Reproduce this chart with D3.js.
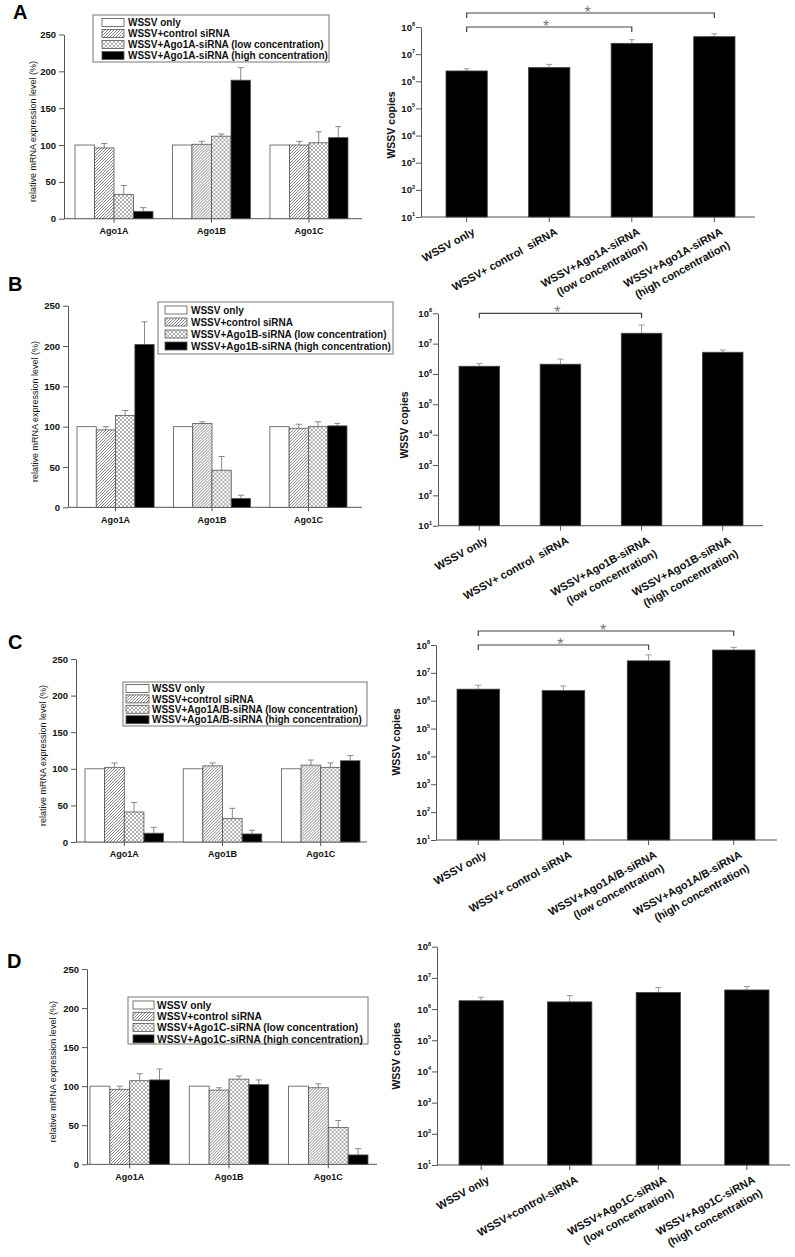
<!DOCTYPE html>
<html><head><meta charset="utf-8">
<script src="https://cdn.jsdelivr.net/npm/d3@7"></script>
<style>
body{margin:0;background:#fff;}
svg text{font-family:"Liberation Sans",Arial,Helvetica,sans-serif;}
</style></head><body>
<svg id="fig" width="795" height="1257"></svg>
<script>
// ---------------- DATA ----------------
const panelLetters = ["A","B","C","D"];
const genes = ["Ago1A","Ago1B","Ago1C"];
const treatments = ["only","control","low","high"];
const yTicksExpr = [0,50,100,150,200,250];
const logExponents = [1,2,3,4,5,6,7,8];

const legendA = ["WSSV only","WSSV+control siRNA","WSSV+Ago1A-siRNA (low concentration)","WSSV+Ago1A-siRNA (high concentration)"];
const legendB = ["WSSV only","WSSV+control siRNA","WSSV+Ago1B-siRNA (low concentration)","WSSV+Ago1B-siRNA (high concentration)"];
const legendC = ["WSSV only","WSSV+control siRNA","WSSV+Ago1A/B-siRNA (low concentration)","WSSV+Ago1A/B-siRNA (high concentration)"];
const legendD = ["WSSV only","WSSV+control siRNA","WSSV+Ago1C-siRNA (low concentration)","WSSV+Ago1C-siRNA (high concentration)"];

// relative mRNA expression (%) per gene: [only, control, low, high]
const exprA = [[100,96,33,10],[100,101,112,188],[100,100,103,110]];
const exprErrA = [[0,6,12,5],[0,4,3,17],[0,5,15,15]];
const exprB = [[100,96,114,202],[100,104,46,11],[100,98,100,101]];
const exprErrB = [[0,4,6,28],[0,2,17,4],[0,5,6,3]];
const exprC = [[100,102,41,12],[100,104,32,11],[100,105,102,111]];
const exprErrC = [[0,6,13,8],[0,4,14,5],[0,7,6,7]];
const exprD = [[100,96,107,108],[100,95,109,102],[100,98,47,12]];
const exprErrD = [[0,4,9,14],[0,3,4,6],[0,5,9,8]];

// WSSV copies
const copiesA = [2.4e6,3.2e6,2.5e7,4.4e7];
const copiesErrA = [0.5e6,1.0e6,0.9e7,1.2e7];
const copiesB = [1.8e6,2.1e6,2.2e7,5.2e6];
const copiesErrB = [0.4e6,1.0e6,1.9e7,1.0e6];
const copiesC = [2.6e6,2.3e6,2.7e7,6.6e7];
const copiesErrC = [1.0e6,1.1e6,1.7e7,1.6e7];
const copiesD = [1.85e6,1.7e6,3.4e6,4.1e6];
const copiesErrD = [0.55e6,1.0e6,1.5e6,1.2e6];

const copyLabelsA = [["WSSV only"],["WSSV+ control  siRNA"],["WSSV+Ago1A-siRNA","(low concentration)"],["WSSV+Ago1A-siRNA","(high concentration)"]];
const copyLabelsB = [["WSSV only"],["WSSV+ control  siRNA"],["WSSV+Ago1B-siRNA","(low concentration)"],["WSSV+Ago1B-siRNA","(high concentration)"]];
const copyLabelsC = [["WSSV only"],["WSSV+ control siRNA"],["WSSV+Ago1A/B-siRNA","(low concentration)"],["WSSV+Ago1A/B-siRNA","(high concentration)"]];
const copyLabelsD = [["WSSV only"],["WSSV+control-siRNA"],["WSSV+Ago1C-siRNA","(low concentration)"],["WSSV+Ago1C-siRNA","(high concentration)"]];

// significance brackets [from, to, level]
const sigA = [[0,2,0],[0,3,1]];
const sigB = [[0,2,0]];
const sigC = [[0,2,0],[0,3,1]];
const sigD = [];

// ---------------- LAYOUT ----------------
const leftLayouts = [
  {x0:64, xEnd:362, yTop:34.5, yBottom:218.7, gStart:75, gEnd:348, labelX:35.5, legend:{x:93,y:15,w:236,h:47,row0:22.5,rowH:11,sw0:102,sw1:124,tx:128,fs:10}, letter:{x:13,y:19}},
  {x0:68, xEnd:362, yTop:305.7, yBottom:507.3, gStart:77, gEnd:347, labelX:37.5, legend:{x:158,y:302,w:235,h:52,row0:310,rowH:12,sw0:165,sw1:187,tx:191,fs:10}, letter:{x:8,y:291}},
  {x0:76, xEnd:367, yTop:659, yBottom:842, gStart:85, gEnd:360, labelX:46, legend:{x:123,y:682,w:244,h:44,row0:688.5,rowH:10.4,sw0:126,sw1:149,tx:152,fs:10}, letter:{x:8,y:649}},
  {x0:87, xEnd:377, yTop:969, yBottom:1164.3, gStart:90, gEnd:368, labelX:56, legend:{x:128,y:997,w:240,h:47,row0:1005,rowH:11.3,sw0:133,sw1:154,tx:157,fs:10.3}, letter:{x:7,y:968}}
];
const rightLayouts = [
  {axisX:421, xEnd:755, yTop:27, yBottom:217, gStart:446, gEnd:735, ylabX:395, ylabY:125},
  {axisX:438, xEnd:763, yTop:313.3, yBottom:525.7, gStart:459, gEnd:743, ylabX:408, ylabY:425},
  {axisX:436, xEnd:777, yTop:645, yBottom:840, gStart:457, gEnd:755, ylabX:400, ylabY:742},
  {axisX:437, xEnd:790, yTop:946.7, yBottom:1165, gStart:459, gEnd:769, ylabX:400, ylabY:1056}
];

const AX = "#555";
const svg = d3.select("#fig");
svg.append("rect").attr("width",795).attr("height",1257).attr("fill","#fff");

// patterns
const defs = svg.append("defs");
const pd = defs.append("pattern").attr("id","diag").attr("patternUnits","userSpaceOnUse").attr("width",3).attr("height",3);
pd.append("rect").attr("width",3).attr("height",3).attr("fill","#fff");
pd.append("path").attr("d","M-1,1 L1,-1 M0,3 L3,0 M2,4 L4,2").attr("stroke","#777").attr("stroke-width",0.9);
const pc = defs.append("pattern").attr("id","cross").attr("patternUnits","userSpaceOnUse").attr("width",4).attr("height",4);
pc.append("rect").attr("width",4).attr("height",4).attr("fill","#fff");
pc.append("path").attr("d","M-1,1 L1,-1 M0,4 L4,0 M3,5 L5,3 M-1,3 L1,5 M0,0 L4,4 M3,-1 L5,1").attr("stroke","#999").attr("stroke-width",0.8);

const fills = {only:"#fff", control:"url(#diag)", low:"url(#cross)", high:"#000"};

function leftPanel(L, values, errs, legendLabels, letter){
  const g = svg.append("g");
  const y = d3.scaleLinear().domain([0,250]).range([L.yBottom, L.yTop]);
  const x0 = d3.scaleBand().domain(genes).range([L.gStart, L.gEnd]).paddingInner(0.2).paddingOuter(0);
  const x1 = d3.scaleBand().domain(treatments).range([0, x0.bandwidth()]);

  // y axis
  const ya = g.append("g").attr("transform",`translate(${L.x0},0)`)
    .call(d3.axisLeft(y).tickValues(yTicksExpr).tickSize(5).tickSizeOuter(0).tickPadding(3));
  ya.select(".domain").attr("stroke",AX);
  ya.selectAll(".tick line").attr("stroke",AX);
  ya.selectAll(".tick text").attr("font-size",9.5).attr("font-weight","bold").attr("fill","#111")
    .style("font-family","'Liberation Sans',Arial,sans-serif");

  // x axis
  g.append("line").attr("x1",L.x0).attr("x2",L.xEnd).attr("y1",y(0)).attr("y2",y(0)).attr("stroke",AX);
  const xa = g.append("g").attr("transform",`translate(0,${y(0)})`)
    .call(d3.axisBottom(x0).tickSize(4).tickSizeOuter(0).tickPadding(5));
  xa.select(".domain").remove();
  xa.selectAll(".tick line").attr("stroke",AX);
  xa.selectAll(".tick text").attr("font-size",9).attr("font-weight","bold").attr("fill","#111")
    .style("font-family","'Liberation Sans',Arial,sans-serif");

  // bars
  genes.forEach((gene, gi) => {
    const gg = g.append("g").attr("transform",`translate(${x0(gene)},0)`);
    treatments.forEach((t, ti) => {
      const v = values[gi][ti], e = errs[gi][ti];
      const bx = x1(t), bw = x1.bandwidth();
      if (e > 0) {
        gg.append("line").attr("x1",bx+bw/2).attr("x2",bx+bw/2).attr("y1",y(v)).attr("y2",y(v+e)).attr("stroke","#888");
        gg.append("line").attr("x1",bx+bw/2-3).attr("x2",bx+bw/2+3).attr("y1",y(v+e)).attr("y2",y(v+e)).attr("stroke","#888");
      }
      gg.append("rect").attr("x",bx).attr("y",y(v)).attr("width",bw).attr("height",y(0)-y(v))
        .attr("fill",fills[t]).attr("stroke","#555").attr("stroke-width",0.8);
    });
  });

  // y label
  g.append("text").attr("transform",`translate(${L.labelX},${(L.yTop+L.yBottom)/2+5}) rotate(-90)`)
    .attr("text-anchor","middle").attr("font-size",9).attr("fill","#111")
    .text("relative mRNA expression level (%)");

  // legend
  const lg = L.legend;
  g.append("rect").attr("x",lg.x).attr("y",lg.y).attr("width",lg.w).attr("height",lg.h)
    .attr("fill","#fff").attr("stroke","#777").attr("stroke-width",1);
  treatments.forEach((t, i) => {
    const cy = lg.row0 + i*lg.rowH;
    g.append("rect").attr("x",lg.sw0).attr("y",cy-4).attr("width",lg.sw1-lg.sw0).attr("height",8)
      .attr("fill",fills[t]).attr("stroke","#555").attr("stroke-width",0.8);
    g.append("text").attr("x",lg.tx).attr("y",cy+3.6).attr("font-size",lg.fs).attr("font-weight","bold")
      .attr("fill","#111").text(legendLabels[i]);
  });

  // letter
  g.append("text").attr("x",L.letter.x).attr("y",L.letter.y).attr("font-size",20).attr("font-weight","bold").text(letter);
}

function rightPanel(R, values, errs, labels, sigs){
  const g = svg.append("g");
  const y = d3.scaleLog().domain([10,1e8]).range([R.yBottom, R.yTop]);
  const x = d3.scaleBand().domain(d3.range(values.length)).range([R.gStart, R.gEnd]).paddingInner(0.5).paddingOuter(0);
  const bw = x.bandwidth();

  // y axis
  const ya = g.append("g").attr("transform",`translate(${R.axisX},0)`)
    .call(d3.axisLeft(y).tickValues(logExponents.map(e => Math.pow(10,e))).tickSize(5).tickSizeOuter(0).tickFormat(""));
  ya.select(".domain").attr("stroke",AX);
  ya.selectAll(".tick line").attr("stroke",AX);
  logExponents.forEach(e => {
    const t = g.append("text").attr("x",R.axisX-6).attr("y",y(Math.pow(10,e))+3.5)
      .attr("text-anchor","end").attr("font-weight","bold").attr("fill","#111");
    t.append("tspan").attr("font-size",9.5).text("10");
    t.append("tspan").attr("font-size",5.5).attr("dy",-4.5).text(e);
  });

  // x axis
  g.append("line").attr("x1",R.axisX).attr("x2",R.xEnd).attr("y1",R.yBottom).attr("y2",R.yBottom).attr("stroke",AX);
  const xa = g.append("g").attr("transform",`translate(0,${R.yBottom})`)
    .call(d3.axisBottom(x).tickSize(5).tickSizeOuter(0).tickFormat(""));
  xa.select(".domain").remove();
  xa.selectAll(".tick line").attr("stroke",AX);

  // bars + error bars
  values.forEach((v, i) => {
    const cx = x(i) + bw/2;
    const top = y(v + errs[i]);
    g.append("line").attr("x1",cx).attr("x2",cx).attr("y1",y(v)).attr("y2",top).attr("stroke","#999");
    g.append("line").attr("x1",cx-3).attr("x2",cx+3).attr("y1",top).attr("y2",top).attr("stroke","#999");
    g.append("rect").attr("x",x(i)).attr("y",y(v)).attr("width",bw).attr("height",R.yBottom-y(v))
      .attr("fill","#000").attr("stroke","#444").attr("stroke-width",0.8);
  });

  // x labels
  labels.forEach((lines, i) => {
    const cx = x(i) + bw/2;
    const t = g.append("text").attr("transform",`translate(${cx+9},${R.yBottom+17}) rotate(-29)`)
      .attr("text-anchor","end").attr("font-size",11).attr("font-weight","bold").attr("fill","#111")
      .style("white-space","pre");
    lines.forEach((ln, k) => {
      t.append("tspan").attr("x",0).attr("dy", k===0 ? 0 : 15).text(ln);
    });
  });

  // y label
  g.append("text").attr("transform",`translate(${R.ylabX},${R.ylabY}) rotate(-90)`)
    .attr("text-anchor","middle").attr("font-size",10.5).attr("font-weight","bold").attr("fill","#111")
    .text("WSSV copies");

  // significance brackets
  sigs.forEach(([a,b,lvl]) => {
    const xa_ = x(a)+bw/2, xb = x(b)+bw/2;
    const yy = R.yTop - 14*lvl;
    g.append("path").attr("d",`M${xa_},${yy+5}V${yy}H${xb}V${yy+5}`).attr("fill","none").attr("stroke","#444").attr("stroke-width",1.2);
    g.append("text").attr("x",(xa_+xb)/2 - 3).attr("y",yy+4.5).attr("text-anchor","middle")
      .attr("font-size",16).attr("fill","#777").text("*");
  });
}

const exprSets = [[exprA,exprErrA,legendA],[exprB,exprErrB,legendB],[exprC,exprErrC,legendC],[exprD,exprErrD,legendD]];
const copySets = [[copiesA,copiesErrA,copyLabelsA,sigA],[copiesB,copiesErrB,copyLabelsB,sigB],[copiesC,copiesErrC,copyLabelsC,sigC],[copiesD,copiesErrD,copyLabelsD,sigD]];

exprSets.forEach((s, i) => leftPanel(leftLayouts[i], s[0], s[1], s[2], panelLetters[i]));
copySets.forEach((s, i) => rightPanel(rightLayouts[i], s[0], s[1], s[2], s[3]));
</script>
</body></html>
